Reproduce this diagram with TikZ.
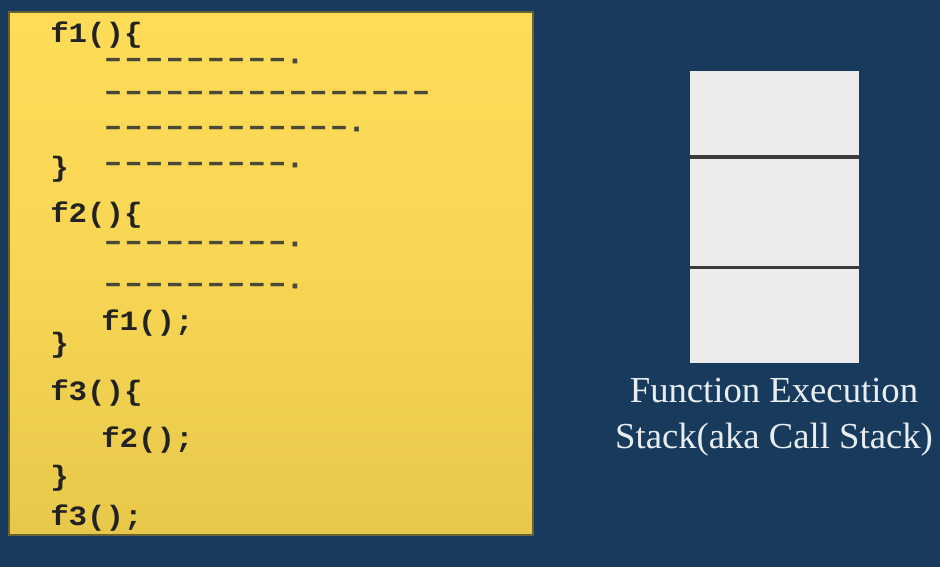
\documentclass[tikz,border=0pt]{standalone}
\usepackage{fontspec}
\setmainfont{Liberation Serif}
\newfontfamily\codefont{Liberation Mono}[BoldFont={Liberation Mono Bold}, FakeStretch=1.1]
\newfontfamily\dashfont{Liberation Mono}[BoldFont={Liberation Mono Bold}, LetterSpace=10, FakeBold=1.2]
\newcommand{\taildot}{\raisebox{-1.6pt}{·}}
\definecolor{bgnavy}{HTML}{183A5C}
\definecolor{yeltop}{HTML}{FEDC58}
\definecolor{yelbot}{HTML}{E8C84A}
\definecolor{yeledge}{HTML}{6A6232}
\definecolor{codeink}{HTML}{222222}
\definecolor{dashink}{HTML}{4A4838}
\definecolor{stackfill}{HTML}{ECECEC}
\definecolor{stackline}{HTML}{3C3C3C}
\definecolor{captionink}{HTML}{E8EDF0}
\tikzset{
  code/.style={anchor=base west, inner sep=0pt, text=codeink,
    font=\codefont\bfseries\fontsize{21pt}{21pt}\selectfont},
  dashline/.style={anchor=base west, inner sep=0pt, text=dashink,
    font=\dashfont\bfseries\fontsize{22pt}{22pt}\selectfont},
  stackcell/.style={draw=none, fill=stackfill, minimum width=126.75pt, inner sep=0pt, anchor=north},
  divider/.style={draw=stackline, line width=2.4pt},
  caption/.style={anchor=base, inner sep=0pt, text=captionink,
    font=\fontsize{27.5pt}{27.5pt}\selectfont}
}
\begin{document}
\begin{tikzpicture}[x=0.75pt, y=-0.75pt]
\fill[bgnavy] (0,0) rectangle (940,567);
\useasboundingbox (0,0) rectangle (940,567);
% yellow code panel
\shade[top color=yeltop, bottom color=yelbot, middle color=yeltop!70!yelbot] (9,12) rectangle (533,535);
\draw[yeledge, line width=0.8pt] (9,12) rectangle (533,535);
% code lines
\node[code] (l1) at (50,43) {f1()\{};
\node[dashline] (l2) at (104,67) {–––––––––\taildot};
\node[dashline] (l3) at (104,100) {––––––––––––––––};
\node[dashline] (l4) at (104,135) {––––––––––––\taildot};
\node[code] (l5a) at (50,176) {\}};
\node[dashline] (l5b) at (104,171) {–––––––––\taildot};
\node[code] (l6) at (50,222) {f2()\{};
\node[dashline] (l7) at (104,250) {–––––––––\taildot};
\node[dashline] (l8) at (104,292) {–––––––––\taildot};
\node[code] (l9) at (101,330) {f1();};
\node[code] (l10) at (50,352) {\}};
\node[code] (l11) at (50,400) {f3()\{};
\node[code] (l12) at (101,447) {f2();};
\node[code] (l13) at (50,485) {\}};
\node[code] (l14) at (50,525) {f3();};
% stack
\node[stackcell, minimum height=64.125pt] (s1) at (774.5,71) {};
\node[stackcell, minimum height=82.5pt] (s2) at (s1.south) {};
\node[stackcell, minimum height=71.625pt] (s3) at (s2.south) {};
\draw[divider] (s1.south west) -- (s1.south east);
\draw[divider] (s2.south west) -- (s2.south east);
% caption
\node[caption] (c1) at (774,402) {Function Execution};
\node[caption] (c2) at (774,448) {Stack(aka Call Stack)};
\end{tikzpicture}
\end{document}
